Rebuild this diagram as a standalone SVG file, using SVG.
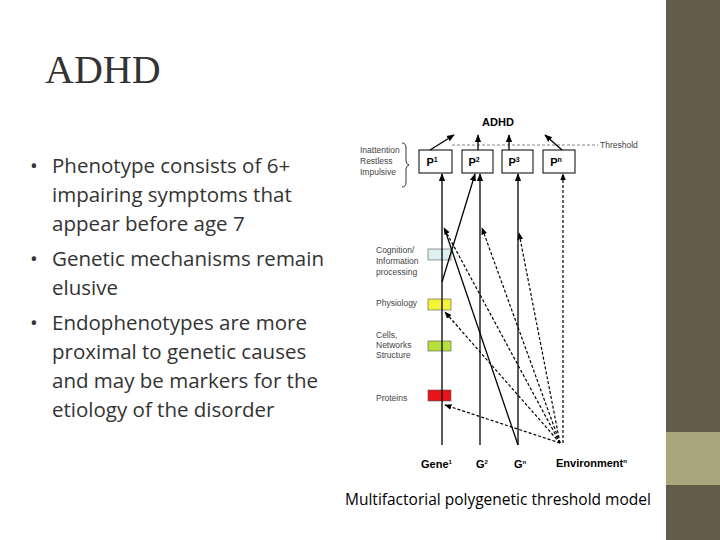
<svg xmlns="http://www.w3.org/2000/svg" width="720" height="540" viewBox="0 0 720 540">
<defs>
<marker id="ah" viewBox="0 0 10 10" refX="9" refY="5" markerWidth="6" markerHeight="6" orient="auto"><path d="M0,1 L10,5 L0,9 z" fill="#000"/></marker>
<style>
.b{font-family:"Open Sans","Liberation Sans",sans-serif;font-size:20.5px;fill:#333}
.s{font-family:"Liberation Sans",sans-serif;font-size:8.5px;fill:#444}
.p{font-family:"Liberation Sans",sans-serif;font-size:11px;font-weight:bold;fill:#000}
.box{fill:#fff;stroke:#000;stroke-width:1}
.sl{stroke:#000;stroke-width:1.3;fill:none}
.dl{stroke:#000;stroke-width:1.2;fill:none;stroke-dasharray:3,2}
</style>
</defs>
<rect width="720" height="540" fill="#fff"/>
<rect x="666" y="0" width="54" height="540" fill="#645b48"/>
<rect x="666" y="432" width="54" height="53" fill="#a9a67e"/>
<text x="45" y="83" font-family="Liberation Serif,serif" font-size="40" fill="#333">ADHD</text>
<g class="b">
<text x="30" y="173">•</text><text x="52" y="173">Phenotype consists of 6+</text>
<text x="52" y="202">impairing symptoms that</text>
<text x="52" y="231">appear before age 7</text>
<text x="30" y="266">•</text><text x="52" y="266">Genetic mechanisms remain</text>
<text x="52" y="295">elusive</text>
<text x="30" y="330">•</text><text x="52" y="330">Endophenotypes are more</text>
<text x="52" y="359">proximal to genetic causes</text>
<text x="52" y="388">and may be markers for the</text>
<text x="52" y="417">etiology of the disorder</text>
</g>
<rect x="356" y="103" width="292" height="377" fill="#fff"/>
<text x="498" y="126" class="p" text-anchor="middle">ADHD</text>
<line x1="452" y1="145" x2="598" y2="145" stroke="#666" stroke-width="0.8" stroke-dasharray="3,2"/>
<text x="600" y="148" class="s">Threshold</text>
<g id="labels" class="s">
<text x="360" y="153">Inattention</text><text x="360" y="164">Restless</text><text x="360" y="175">Impulsive</text>
<text x="376" y="253">Cognition/</text><text x="376" y="264">Information</text><text x="376" y="275">processing</text>
<text x="376" y="306">Physiology</text>
<text x="376" y="338">Cells,</text><text x="376" y="348">Networks</text><text x="376" y="358">Structure</text>
<text x="376" y="401">Proteins</text>
</g>
<path d="M402,143 q4,0 4,5 v13 q0,3 3,4 q-3,1 -3,4 v13 q0,5 -4,5" fill="none" stroke="#000" stroke-width="0.8"/>
<g id="P1"><rect class="box" x="419" y="150" width="33" height="23"/><text x="432" y="166" class="p" text-anchor="middle">P<tspan font-size="7" dy="-4">1</tspan></text></g>
<g id="P2"><rect class="box" x="462" y="150" width="31" height="23"/><text x="474" y="166" class="p" text-anchor="middle">P<tspan font-size="7" dy="-4">2</tspan></text></g>
<g id="P3"><rect class="box" x="502" y="150" width="31" height="23"/><text x="514" y="166" class="p" text-anchor="middle">P<tspan font-size="7" dy="-4">3</tspan></text></g>
<g id="Pn"><rect class="box" x="543" y="150" width="32" height="23"/><text x="556" y="166" class="p" text-anchor="middle">P<tspan font-size="7" dy="-4">n</tspan></text></g>
<g id="endo">
<rect x="428" y="249" width="23" height="11" fill="#dff0f0" stroke="#555" stroke-width="0.6"/>
<rect x="428" y="299" width="23" height="11" fill="#f3f33a" stroke="#555" stroke-width="0.6"/>
<rect x="428" y="341" width="23" height="10" fill="#b8e03a" stroke="#555" stroke-width="0.6"/>
<rect x="428" y="390" width="23" height="11" fill="#e8141a" stroke="#555" stroke-width="0.6"/>
</g>
<g id="connectors">
<line class="sl" x1="430" y1="150" x2="454" y2="135" marker-end="url(#ah)"/>
<line class="sl" x1="478" y1="150" x2="478" y2="135" marker-end="url(#ah)"/>
<line class="sl" x1="509" y1="150" x2="509" y2="135" marker-end="url(#ah)"/>
<line class="sl" x1="562" y1="150" x2="545" y2="135" marker-end="url(#ah)"/>
<line class="sl" x1="442" y1="445" x2="442" y2="174" marker-end="url(#ah)"/>
<line class="sl" x1="480" y1="445" x2="480" y2="174" marker-end="url(#ah)"/>
<line class="sl" x1="518" y1="445" x2="518" y2="174" marker-end="url(#ah)"/>
<line class="dl" x1="563" y1="443" x2="563" y2="174" marker-end="url(#ah)"/>
<line class="sl" x1="442" y1="282" x2="475" y2="174" marker-end="url(#ah)"/>
<line class="sl" x1="446" y1="233" x2="518" y2="445"/>
<line class="dl" x1="560" y1="443" x2="444" y2="228" marker-end="url(#ah)"/>
<line class="dl" x1="560" y1="443" x2="482" y2="228" marker-end="url(#ah)"/>
<line class="dl" x1="560" y1="443" x2="519" y2="233" marker-end="url(#ah)"/>
<line class="dl" x1="560" y1="443" x2="445" y2="312" marker-end="url(#ah)"/>
<line class="dl" x1="560" y1="443" x2="445" y2="405" marker-end="url(#ah)"/>
</g>
<g class="p">
<text x="421" y="468">Gene<tspan font-size="6" dy="-4">1</tspan></text>
<text x="476" y="468">G<tspan font-size="6" dy="-4">2</tspan></text>
<text x="514" y="468">G<tspan font-size="6" dy="-4">n</tspan></text>
<text x="556" y="467">Environment<tspan font-size="6" dy="-4">n</tspan></text>
</g>
<text x="345" y="505" font-family="Open Sans,Liberation Sans,sans-serif" font-size="15.5" fill="#000">Multifactorial polygenetic threshold model</text>
</svg>
